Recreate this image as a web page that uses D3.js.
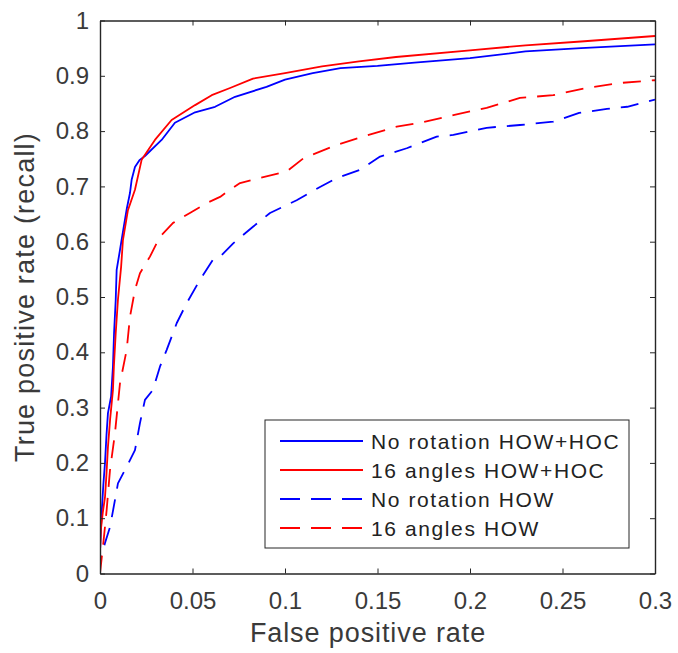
<!DOCTYPE html>
<html>
<head>
<meta charset="utf-8">
<script src="https://cdn.jsdelivr.net/npm/d3@7"></script>
<style>
  html, body { margin: 0; padding: 0; background: #fff; }
  svg { display: block; }
  text { font-family: "Liberation Sans", Arial, Helvetica, sans-serif; fill: #3a3a3a; }
</style>
</head>
<body>
<svg id="chart" width="678" height="653"></svg>
<script>
// ---- data ----
const seriesNames = ["No rotation HOW+HOC", "16 angles HOW+HOC", "No rotation HOW", "16 angles HOW"];
const seriesColors = ["#0000ff", "#ff0000", "#0000ff", "#ff0000"];
const seriesDashed = [false, false, true, true];

const noRotHowHocFpr = [0,0,0.0005,0.0009,0.0018,0.0027,0.0035,0.0043,0.006,0.007,0.0076,0.0085,0.009,0.0108,0.0125,0.0145,0.0162,0.0171,0.0189,0.0215,0.0243,0.0333,0.0405,0.0514,0.0622,0.073,0.09,0.1,0.115,0.13,0.15,0.17,0.2,0.23,0.26,0.3];
const noRotHowHocTpr = [0,0.04,0.08,0.11,0.16,0.2,0.25,0.29,0.32,0.374,0.435,0.495,0.549,0.585,0.62,0.66,0.688,0.712,0.735,0.748,0.755,0.784,0.815,0.834,0.844,0.862,0.88,0.893,0.905,0.914,0.918,0.924,0.932,0.944,0.95,0.957];

const angles16HowHocFpr = [0,0,0.0005,0.0015,0.0027,0.0035,0.0043,0.0055,0.007,0.0075,0.0085,0.0097,0.0114,0.0124,0.0151,0.0189,0.0225,0.0297,0.0387,0.0514,0.0604,0.0703,0.0827,0.1,0.12,0.14,0.16,0.2,0.23,0.26,0.3];
const angles16HowHocTpr = [0,0.04,0.08,0.11,0.138,0.18,0.229,0.28,0.332,0.374,0.435,0.495,0.554,0.603,0.657,0.694,0.748,0.784,0.82,0.847,0.865,0.878,0.895,0.905,0.917,0.926,0.934,0.946,0.955,0.962,0.972];

const noRotHowFpr = [0,0,0.0027,0.0054,0.0081,0.0097,0.0144,0.0189,0.0216,0.0243,0.0286,0.0324,0.036,0.0415,0.0469,0.054,0.061,0.0649,0.072,0.0827,0.0919,0.1063,0.1189,0.128,0.1405,0.1514,0.1658,0.182,0.191,0.209,0.227,0.245,0.259,0.274,0.285,0.3];
const noRotHowTpr = [0,0.024,0.055,0.084,0.133,0.163,0.193,0.223,0.272,0.314,0.332,0.374,0.404,0.453,0.489,0.531,0.567,0.573,0.597,0.627,0.652,0.675,0.699,0.715,0.73,0.754,0.769,0.79,0.793,0.806,0.811,0.817,0.833,0.84,0.844,0.857];

const angles16HowFpr = [0,0.0018,0.0036,0.0054,0.0081,0.0108,0.0144,0.0162,0.0189,0.0216,0.027,0.0324,0.0395,0.0486,0.0577,0.0649,0.0703,0.0757,0.0827,0.1009,0.11,0.128,0.1422,0.1604,0.173,0.191,0.209,0.227,0.245,0.263,0.281,0.3];
const angles16HowTpr = [0,0.055,0.115,0.187,0.254,0.344,0.404,0.464,0.513,0.543,0.573,0.609,0.634,0.652,0.67,0.681,0.694,0.706,0.712,0.727,0.751,0.775,0.79,0.808,0.815,0.829,0.842,0.86,0.865,0.878,0.887,0.892];

const xTicks = [0, 0.05, 0.1, 0.15, 0.2, 0.25, 0.3];
const xTickLabels = ["0", "0.05", "0.1", "0.15", "0.2", "0.25", "0.3"];
const yTicks = [0, 0.1, 0.2, 0.3, 0.4, 0.5, 0.6, 0.7, 0.8, 0.9, 1];
const yTickLabels = ["0", "0.1", "0.2", "0.3", "0.4", "0.5", "0.6", "0.7", "0.8", "0.9", "1"];

const xLabel = "False positive rate";
const yLabel = "True positive rate (recall)";

// ---- layout ----
const W = 678, H = 653;
const m = { left: 100, top: 20.5, right: 23, bottom: 79.5 };
const iw = W - m.left - m.right, ih = H - m.top - m.bottom;

const svg = d3.select("#chart");
const x = d3.scaleLinear().domain([0, 0.3]).range([0, iw]);
const y = d3.scaleLinear().domain([0, 1]).range([ih, 0]);

const g = svg.append("g").attr("transform", `translate(${m.left},${m.top})`);

g.append("defs").append("clipPath").attr("id", "clip")
  .append("rect").attr("x", 0).attr("y", -2).attr("width", iw).attr("height", ih + 2);

const axisColor = "#262626";

// curves
const seriesData = [
  d3.zip(noRotHowHocFpr, noRotHowHocTpr),
  d3.zip(angles16HowHocFpr, angles16HowHocTpr),
  d3.zip(noRotHowFpr, noRotHowTpr),
  d3.zip(angles16HowFpr, angles16HowTpr)
];
const line = d3.line().x(d => x(d[0])).y(d => y(d[1]));
const dash = "18,11";

const plot = g.append("g").attr("clip-path", "url(#clip)");
seriesData.forEach((d, i) => {
  plot.append("path")
    .datum(d)
    .attr("d", line)
    .attr("fill", "none")
    .attr("stroke", seriesColors[i])
    .attr("stroke-width", 1.8)
    .attr("stroke-linejoin", "round")
    .attr("stroke-dasharray", seriesDashed[i] ? dash : null);
});

// axes
function styleAxis(sel) {
  sel.selectAll("path.domain").attr("stroke", axisColor).attr("stroke-width", 1.4);
  sel.selectAll(".tick line").attr("stroke", axisColor).attr("stroke-width", 1);
  sel.selectAll(".tick text").attr("fill", "#3a3a3a")
    .style("font-family", '"Liberation Sans", Arial, sans-serif')
    .style("font-size", "24px");
}

const xAxis = g.append("g").attr("transform", `translate(0,${ih})`)
  .call(d3.axisBottom(x).tickValues(xTicks).tickFormat((d, i) => xTickLabels[i])
    .tickSizeInner(-5).tickSizeOuter(0).tickPadding(18));
styleAxis(xAxis);

const yAxis = g.append("g")
  .call(d3.axisLeft(y).tickValues(yTicks).tickFormat((d, i) => yTickLabels[i])
    .tickSizeInner(-5).tickSizeOuter(0).tickPadding(11));
styleAxis(yAxis);

const xTop = g.append("g")
  .call(d3.axisTop(x).tickValues(xTicks).tickFormat("").tickSizeInner(-5).tickSizeOuter(0));
styleAxis(xTop);

const yRight = g.append("g").attr("transform", `translate(${iw},0)`)
  .call(d3.axisRight(y).tickValues(yTicks).tickFormat("").tickSizeInner(-5).tickSizeOuter(0));
styleAxis(yRight);

// axis labels
svg.append("text")
  .attr("x", 368).attr("y", 642)
  .attr("text-anchor", "middle")
  .style("font-size", "27px").style("letter-spacing", "0.9px")
  .text(xLabel);

svg.append("text")
  .attr("transform", `translate(34,297) rotate(-90)`)
  .attr("text-anchor", "middle")
  .style("font-size", "27px").style("letter-spacing", "1.2px")
  .text(yLabel);

// legend
const lg = svg.append("g").attr("transform", "translate(265,420)");
lg.append("rect").attr("width", 364).attr("height", 128)
  .attr("fill", "#fff").attr("stroke", axisColor).attr("stroke-width", 1);
const rowY = [21, 50, 79, 108];
seriesNames.forEach((name, i) => {
  lg.append("line")
    .attr("x1", 15).attr("x2", 98).attr("y1", rowY[i]).attr("y2", rowY[i])
    .attr("stroke", seriesColors[i]).attr("stroke-width", 1.8)
    .attr("stroke-dasharray", seriesDashed[i] ? "20,11" : null);
  lg.append("text")
    .attr("x", 106).attr("y", rowY[i] + 7.5)
    .style("font-size", "21px").style("letter-spacing", "1.6px")
    .style("fill", "#222")
    .text(name);
});
</script>
</body>
</html>
